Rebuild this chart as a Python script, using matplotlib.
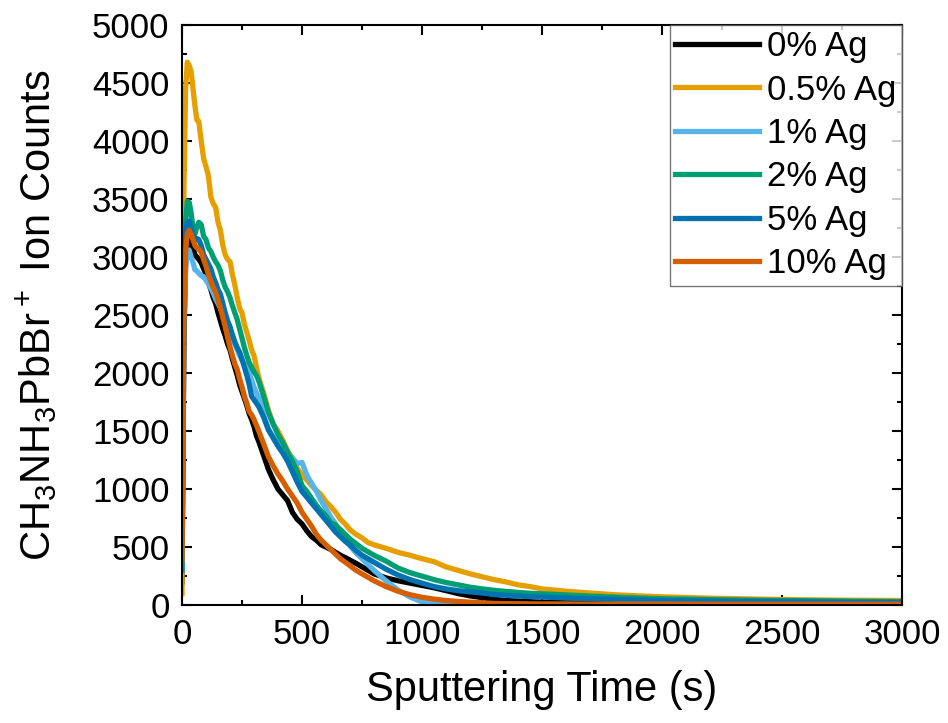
import numpy as np
import matplotlib.pyplot as plt
from matplotlib.ticker import MultipleLocator

plt.rcParams['font.family'] = ['Liberation Sans', 'DejaVu Sans']
plt.rcParams['mathtext.default'] = 'regular'

# sampling times (s) used for all curves
time_s = ([0, 8, 15, 22, 30, 38, 46, 54, 62, 70]
          + list(range(80, 321, 10))
          + list(range(340, 701, 20))
          + [725, 750, 775, 800]
          + list(range(850, 1501, 50))
          + [1600, 1700, 1800, 1900, 2000]
          + [2200, 2400, 2600, 2800, 3000])

# ion counts
ag_0 = [200, 2300, 2950, 3100, 3150, 3120, 3080, 3020, 3000, 2980,
        2950, 2900, 2850, 2780, 2720, 2650, 2600, 2520, 2450, 2380, 2320, 2250, 2200,
        2120, 2050, 1980, 1900, 1840, 1780, 1720, 1650, 1600, 1540, 1460, 1410,
        1290, 1170, 1080, 1000, 950, 900, 800, 740, 700, 640, 590, 560, 520, 500, 480,
        455, 430, 410, 388,
        360, 330, 300, 270,
        235, 210, 190, 170, 150, 125, 100, 80, 65, 50, 40, 35, 30, 25,
        20, 18, 16, 15, 14,
        13, 12, 11, 11, 10]

ag_05 = [100, 3600, 4450, 4680, 4650, 4600, 4450, 4300, 4180, 4170,
         4000, 3850, 3780, 3700, 3520, 3460, 3430, 3300, 3230, 3100, 3020, 2980, 2960,
         2850, 2760, 2650, 2560, 2520, 2420, 2350, 2280, 2200, 2150, 2050, 1960,
         1830, 1680, 1560, 1500, 1420, 1330, 1260, 1180, 1120, 1080, 1030, 990, 950,
         890, 850, 800, 740, 700, 650,
         610, 580, 540, 520,
         490, 455, 430, 400, 375, 330, 300, 270, 245, 220, 200, 175, 160, 140,
         120, 105, 90, 80, 72,
         60, 52, 46, 42, 40]

ag_1 = [300, 2400, 2900, 3050, 3060, 3000, 2950, 2890, 2880, 2860,
        2840, 2830, 2800, 2770, 2730, 2690, 2640, 2600, 2560, 2510, 2460, 2410, 2360,
        2300, 2250, 2200, 2150, 2110, 2080, 2040, 2000, 1940, 1880, 1830, 1780,
        1640, 1520, 1450, 1390, 1340, 1300, 1270, 1220, 1230, 1120, 1050, 980, 900,
        830, 760, 700, 620, 560, 510,
        450, 400, 350, 300,
        210, 130, 70, 28, 15, 10, 8, 7, 6, 6, 6, 5, 5, 5,
        5, 5, 5, 5, 5,
        5, 5, 5, 5, 5]

ag_2 = [300, 2600, 3300, 3480, 3470, 3380, 3250, 3200, 3260, 3300,
        3280, 3180, 3150, 3080, 3050, 3000, 2960, 2930, 2880, 2800, 2740, 2700, 2650,
        2580, 2520, 2460, 2380, 2300, 2220, 2150, 2090, 2050, 2010, 1980, 1930,
        1800, 1660, 1560, 1470, 1400, 1320, 1240, 1150, 1030, 980, 920, 860, 810,
        770, 710, 690, 650, 610, 570,
        530, 490, 460, 430,
        380, 320, 280, 250, 220, 195, 175, 155, 140, 128, 118, 110, 102, 98,
        88, 78, 70, 62, 55,
        48, 42, 38, 34, 30]

ag_5 = [550, 2800, 3200, 3300, 3310, 3260, 3200, 3150, 3160, 3150,
        3100, 3020, 2980, 2940, 2900, 2830, 2780, 2720, 2680, 2600, 2520, 2450, 2400,
        2330, 2270, 2220, 2180, 2120, 2050, 1980, 1900, 1800, 1770, 1740, 1710,
        1620, 1510, 1440, 1370, 1310, 1240, 1150, 1060, 980, 930, 880, 830, 780,
        730, 680, 630, 590, 550, 520,
        470, 430, 400, 370,
        310, 260, 220, 190, 160, 140, 125, 115, 105, 92, 85, 78, 74, 70,
        62, 56, 50, 45, 40,
        35, 31, 27, 24, 22]

ag_10 = [400, 2500, 3050, 3200, 3230, 3200, 3150, 3100, 3080, 3070,
         3040, 2980, 2920, 2850, 2790, 2740, 2700, 2630, 2560, 2480, 2400, 2310, 2224,
         2150, 2080, 2030, 1950, 1880, 1800, 1740, 1670, 1640, 1600, 1550, 1500,
         1390, 1280, 1200, 1130, 1070, 1000, 940, 880, 800, 740, 680, 610, 560,
         520, 480, 440, 400, 370, 340,
         300, 270, 240, 210,
         160, 120, 90, 68, 52, 40, 32, 26, 20, 15, 13, 12, 11, 10,
         10, 9, 9, 9, 9,
         8, 8, 8, 8, 8]

labels = ['0% Ag', '0.5% Ag', '1% Ag', '2% Ag', '5% Ag', '10% Ag']
colors = ['#000000', '#E69F00', '#56B4E9', '#009E73', '#0072B2', '#D55E00']
series = [ag_0, ag_05, ag_1, ag_2, ag_5, ag_10]

fig = plt.figure(figsize=(9.48, 7.23), dpi=100)
ax = fig.add_axes([0.192, 0.163, 0.7595, 0.8024])

for counts, lab, col in zip(series, labels, colors):
    ax.plot(time_s, counts, color=col, lw=3.8, label=lab, solid_joinstyle='round')

ax.set_xlim(0, 3000)
ax.set_ylim(0, 5000)
ax.xaxis.set_major_locator(MultipleLocator(500))
ax.xaxis.set_minor_locator(MultipleLocator(250))
ax.yaxis.set_major_locator(MultipleLocator(500))
ax.yaxis.set_minor_locator(MultipleLocator(250))
ax.tick_params(which='both', direction='in', top=True, right=True, width=1.5,
               labelsize=25, pad=9)
ax.tick_params(which='major', length=7)
ax.tick_params(which='minor', length=3.5)
for s in ax.spines.values():
    s.set_linewidth(1.5)

ax.set_xlabel('Sputtering Time (s)', fontsize=30)
ax.set_ylabel('CH$_3$NH$_3$PbBr$^+$ Ion Counts', fontsize=30)
ax.xaxis.set_label_coords(0.5, -0.112)
ax.yaxis.set_label_coords(-0.169, 0.5)

leg = ax.legend(loc='upper right', fontsize=25, frameon=True, fancybox=False,
                borderaxespad=0, handlelength=2.4, labelspacing=0.3,
                handletextpad=0.25, borderpad=0.15)
leg.get_frame().set_edgecolor('#555555')
leg.get_frame().set_linewidth(1.0)

fig.savefig('out.png', dpi=100)
